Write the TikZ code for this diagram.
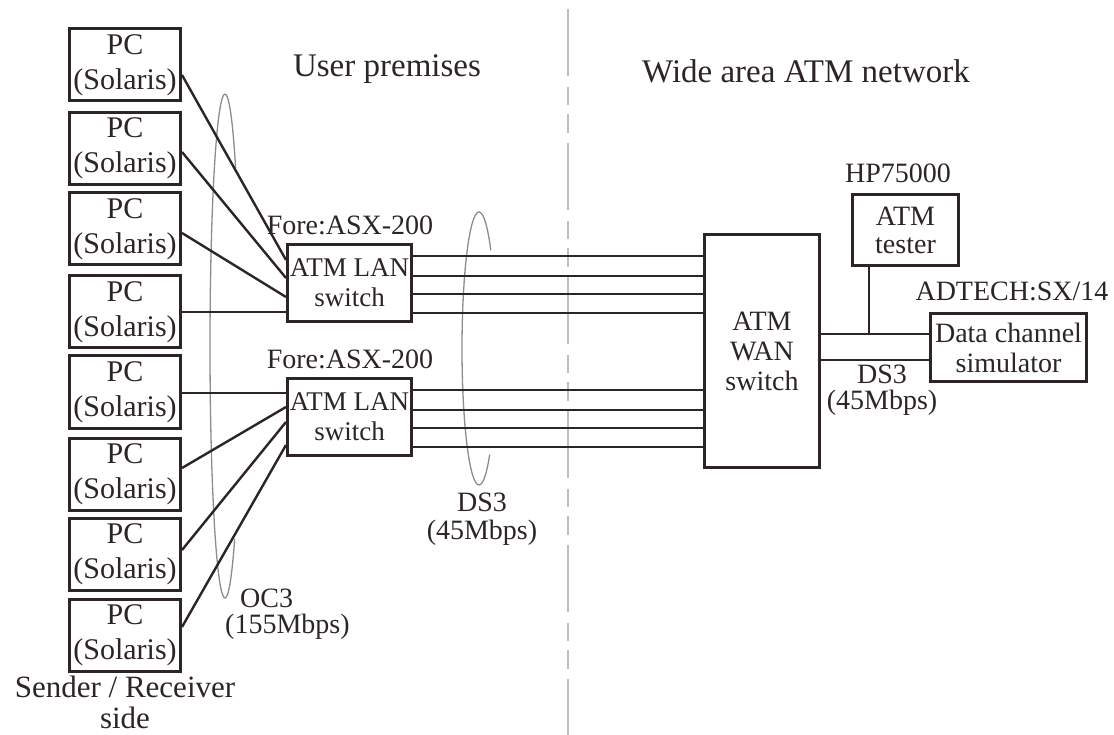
\documentclass[tikz,border=0pt]{standalone}
\usepackage{fontspec}
\setmainfont{Liberation Serif}
\usetikzlibrary{calc}
\definecolor{ink}{RGB}{45,37,37}
\definecolor{loopcol}{RGB}{140,140,140}
\definecolor{divcol}{RGB}{190,190,190}
\begin{document}
\begin{tikzpicture}[x=1pt,y=-1pt,
  every node/.style={text=ink},
  boxbase/.style={draw=ink, line width=3pt, inner sep=0pt, align=center, fill=white},
  pcbox/.style={boxbase, minimum width=111pt, minimum height=72pt, font=\fontsize{30}{35}\selectfont},
  lanbox/.style={boxbase, minimum width=124pt, minimum height=77pt, font=\fontsize{27}{30}\selectfont},
  wanbox/.style={boxbase, minimum width=115pt, minimum height=233pt, font=\fontsize{28}{30}\selectfont},
  testbox/.style={boxbase, minimum width=106pt, minimum height=71pt, font=\fontsize{28}{28}\selectfont},
  dcbox/.style={boxbase, minimum width=156pt, minimum height=68pt, font=\fontsize{28}{30}\selectfont},
  lbl/.style={inner sep=0pt, font=\fontsize{28}{28}\selectfont},
  ttl/.style={inner sep=0pt, font=\fontsize{33}{33}\selectfont},
  link/.style={draw=ink, line width=2.4pt},
  loopline/.style={draw=loopcol, line width=1.3pt},
  divline/.style={draw=divcol, line width=1.8pt, dash pattern=on 67pt off 11pt on 18pt off 9pt on 19pt off 10pt}
]
\useasboundingbox (0,0) rectangle (1114,735);

% divider
\coordinate (dtop) at (568,9);
\coordinate (dbot) at (568,735);
\draw[divline] (dtop) -- (dbot);

% cable loops
\draw[loopline] ([shift={(50:15 and 252)}]225,346) arc[start angle=50, end angle=315, x radius=15, y radius=252];
\draw[loopline] ([shift={(51:17 and 136.5)}]479,348.5) arc[start angle=51, end angle=314, x radius=17, y radius=136.5];

% titles
\node[ttl, anchor=base] (tuser) at (387,77) {User premises};
\node[ttl, anchor=base] (twide) at (806,83) {Wide area ATM network};

% PCs
\node[pcbox] (pc1) at (125,65) {PC\\(Solaris)};
\node[pcbox] (pc2) at (125,148.5) {PC\\(Solaris)};
\node[pcbox] (pc3) at (125,229) {PC\\(Solaris)};
\node[pcbox] (pc4) at (125,312) {PC\\(Solaris)};
\node[pcbox] (pc5) at (125,392) {PC\\(Solaris)};
\node[pcbox] (pc6) at (125,474.5) {PC\\(Solaris)};
\node[pcbox] (pc7) at (125,554.5) {PC\\(Solaris)};
\node[pcbox] (pc8) at (125,635) {PC\\(Solaris)};
\node[inner sep=0pt, align=center, font=\fontsize{31}{31}\selectfont] (side) at (125,702) {Sender / Receiver\\side};

% LAN switches
\node[lanbox] (sw1) at (349.5,283) {ATM LAN\\switch};
\node[lanbox] (sw2) at (349.5,417) {ATM LAN\\switch};
\node[lbl, anchor=base] (f1) at (350,235) {Fore:ASX-200};
\node[lbl, anchor=base] (f2) at (350,369) {Fore:ASX-200};

% WAN switch
\node[wanbox] (wan) at (762,351) {ATM\\WAN\\switch};

% tester and simulator
\node[testbox] (tester) at (905.5,230) {ATM\\tester};
\node[lbl, anchor=base] (hp) at (898,183) {HP75000};
\node[dcbox] (dc) at (1008.5,347.5) {Data channel\\simulator};
\node[lbl, anchor=base] (adt) at (1012,301) {ADTECH:SX/14};

% PC links
\draw[link] ($(pc1.east)+(0,10)$) -- ($(sw1.west)+(0,-23)$);
\draw[link] ($(pc2.east)+(0,3.5)$) -- ($(sw1.west)+(0,-5)$);
\draw[link] ($(pc3.east)+(0,4)$) -- ($(sw1.west)+(0,14)$);
\draw[link] ($(pc4.east)+(0,0)$) -- ($(sw1.west)+(0,29)$);
\draw[link] ($(pc5.east)+(0,1)$) -- ($(sw2.west)+(0,-24)$);
\draw[link] ($(pc6.east)+(0,-6.5)$) -- ($(sw2.west)+(0,-10)$);
\draw[link] ($(pc7.east)+(0,-4.5)$) -- ($(sw2.west)+(0,5)$);
\draw[link] ($(pc8.east)+(0,-8)$) -- ($(sw2.west)+(0,28)$);

% DS3 trunks
\foreach \s in {sw1,sw2}{
  \foreach \d in {-27,-7,11,30}{
    \coordinate (tr) at ($(\s.east)+(0,\d)$);
    \draw[link] (tr) -- (tr -| wan.west);
  }
}

% WAN to simulator
\coordinate (h1) at ($(dc.west)+(0,-13.5)$);
\coordinate (h2) at ($(dc.west)+(0,12.5)$);
\draw[link] (h1 -| wan.east) -- (h1);
\draw[link] (h2 -| wan.east) -- (h2);
\coordinate (t1) at ($(tester.south)+(-36.5,0)$);
\draw[link] (t1) -- (t1 |- h1);

% rate labels
\node[inner sep=0pt, align=left, anchor=west, font=\fontsize{28}{26}\selectfont] (oc3) at (225,614.5) {\hspace*{15pt}OC3\\(155Mbps)};
\node[inner sep=0pt, align=center, font=\fontsize{28}{28}\selectfont] (ds3a) at (482,519.5) {DS3\\(45Mbps)};
\node[inner sep=0pt, align=center, font=\fontsize{28}{26}\selectfont] (ds3b) at (882,390.5) {DS3\\(45Mbps)};
\end{tikzpicture}
\end{document}
